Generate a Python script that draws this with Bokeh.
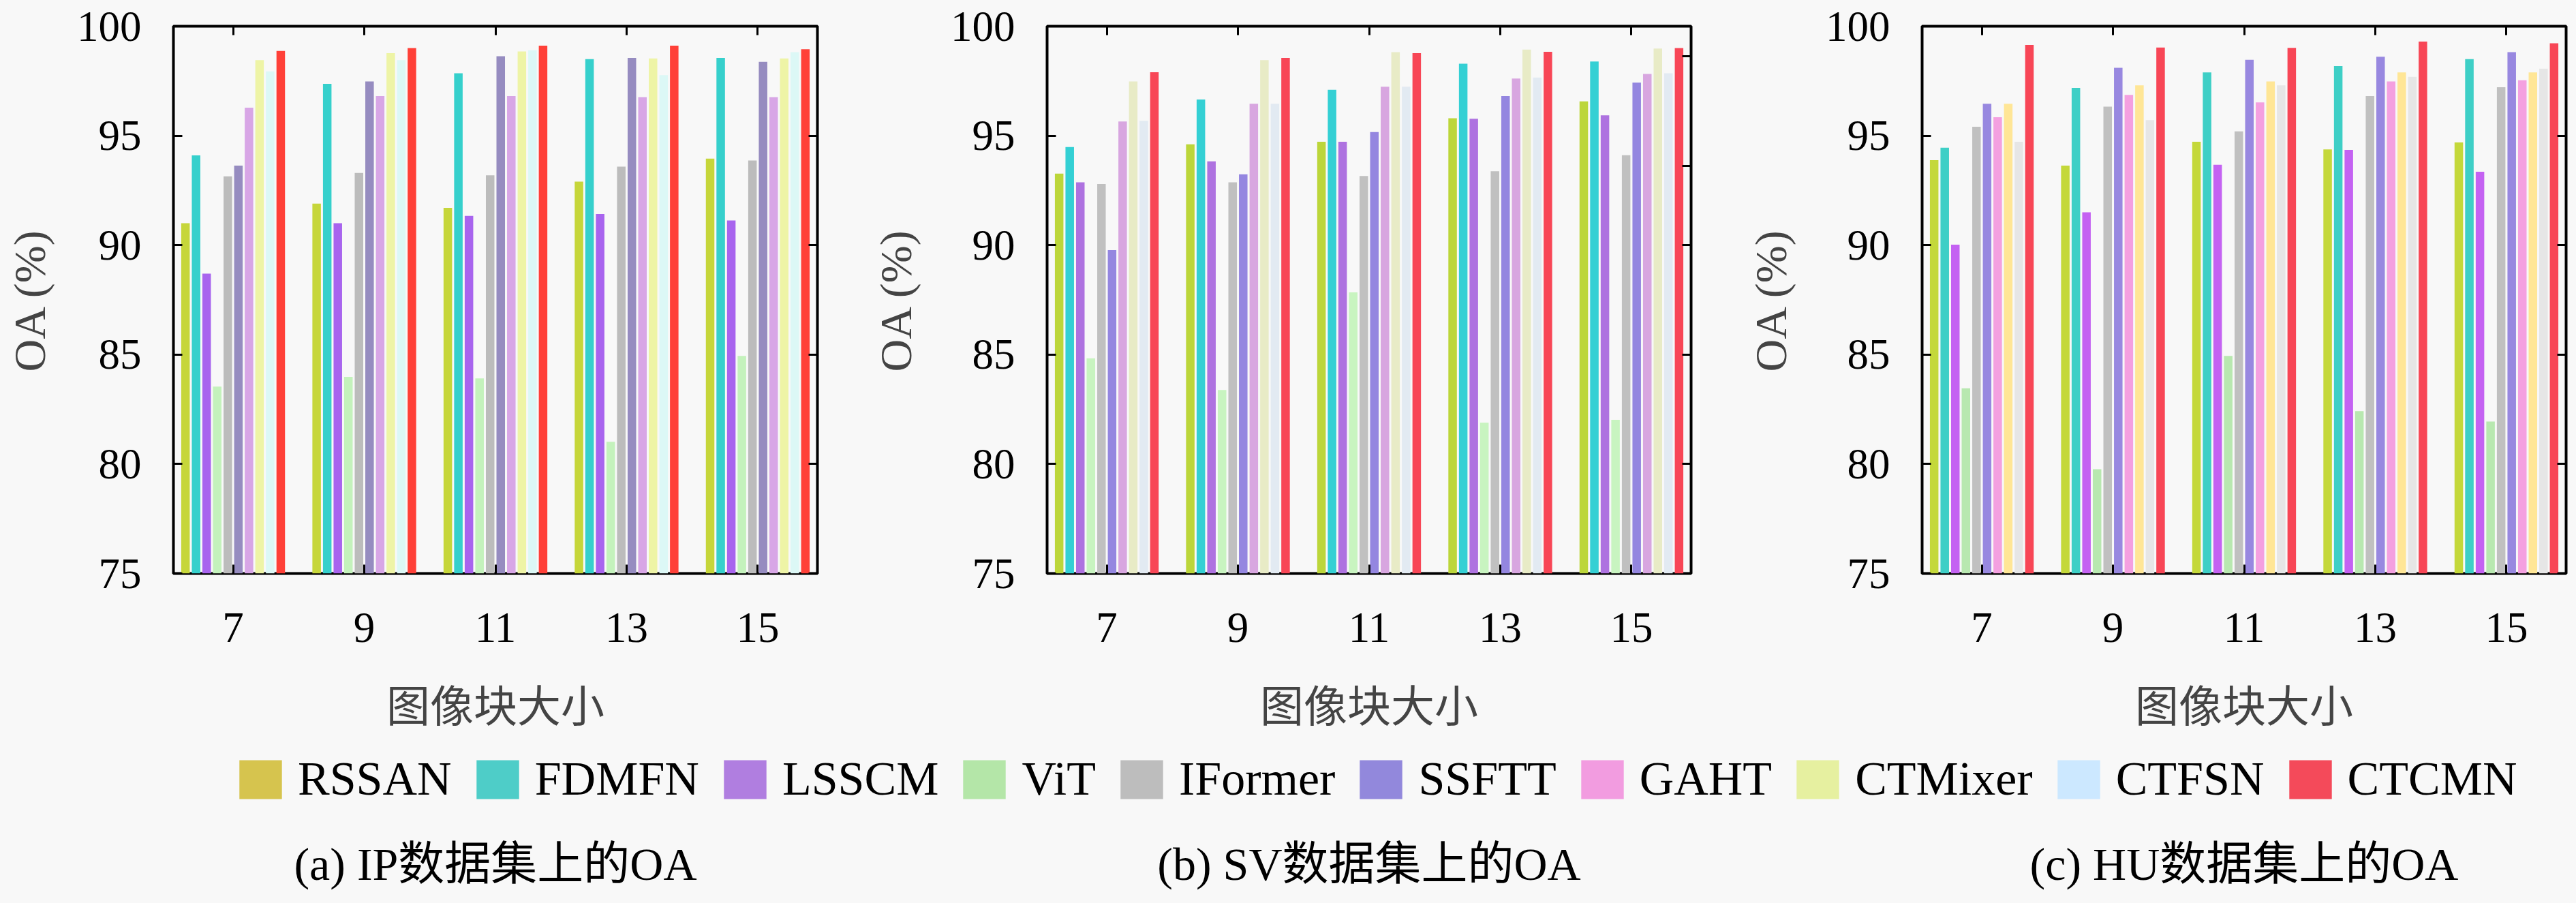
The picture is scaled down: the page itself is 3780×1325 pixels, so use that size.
from bokeh.plotting import figure
from bokeh.models import (Range1d, FixedTicker, LinearAxis, Legend, LegendItem,
                          ColumnDataSource)
from bokeh.layouts import column, row
from bokeh.core.properties import value
from bokeh.embed import file_html
from bokeh.resources import INLINE

# ---------------- data ----------------
patch_sizes = ["7", "9", "11", "13", "15"]
methods = ["RSSAN", "FDMFN", "LSSCM", "ViT", "IFormer", "SSFTT", "GAHT",
           "CTMixer", "CTFSN", "CTCMN"]

ip_oa = {
    "RSSAN":   [91.00, 91.90, 91.70, 92.90, 93.95],
    "FDMFN":   [94.10, 97.37, 97.85, 98.50, 98.55],
    "LSSCM":   [88.70, 91.00, 91.34, 91.42, 91.13],
    "ViT":     [83.54, 83.98, 83.91, 81.02, 84.94],
    "IFormer": [93.14, 93.30, 93.19, 93.59, 93.87],
    "SSFTT":   [93.63, 97.48, 98.63, 98.55, 98.37],
    "GAHT":    [96.28, 96.81, 96.81, 96.76, 96.76],
    "CTMixer": [98.45, 98.77, 98.85, 98.53, 98.53],
    "CTFSN":   [97.94, 98.45, 98.90, 97.77, 98.82],
    "CTCMN":   [98.87, 99.00, 99.11, 99.11, 98.95],
}
sv_oa = {
    "RSSAN":   [93.27, 94.61, 94.72, 95.80, 96.57],
    "FDMFN":   [94.48, 96.65, 97.10, 98.29, 98.39],
    "LSSCM":   [92.87, 93.83, 94.72, 95.77, 95.93],
    "ViT":     [84.83, 83.38, 87.84, 81.89, 82.02],
    "IFormer": [92.79, 92.87, 93.16, 93.38, 94.11],
    "SSFTT":   [89.77, 93.24, 95.17, 96.81, 97.42],
    "GAHT":    [95.65, 96.46, 97.24, 97.61, 97.82],
    "CTMixer": [97.48, 98.45, 98.82, 98.93, 98.98],
    "CTFSN":   [95.68, 96.46, 97.24, 97.66, 97.85],
    "CTCMN":   [97.90, 98.55, 98.77, 98.83, 99.00],
}
hu_oa = {
    "RSSAN":   [93.88, 93.63, 94.72, 94.37, 94.69],
    "FDMFN":   [94.45, 97.18, 97.89, 98.18, 98.50],
    "LSSCM":   [90.02, 91.50, 93.67, 94.35, 93.35],
    "ViT":     [83.46, 79.76, 84.94, 82.42, 81.94],
    "IFormer": [95.41, 96.33, 95.20, 96.81, 97.21],
    "SSFTT":   [96.46, 98.10, 98.47, 98.61, 98.82],
    "GAHT":    [95.84, 96.86, 96.52, 97.48, 97.53],
    "CTMixer": [96.46, 97.30, 97.48, 97.89, 97.89],
    "CTFSN":   [94.72, 95.71, 97.30, 97.69, 98.06],
    "CTCMN":   [99.14, 99.03, 99.01, 99.30, 99.22],
}
y_ticks = [75, 80, 85, 90, 95, 100]
sv_right_ticks = [80, 85, 90, 93.63, 98.63]

captions = ["(a) IP数据集上的OA", "(b) SV数据集上的OA", "(c) HU数据集上的OA"]
x_title = "图像块大小"
y_title = "OA (%)"

legend_colors = ["#d6c44e", "#4ecdc8", "#b07ee0", "#b4e6a8", "#bdbdbd",
                 "#9288dc", "#f29ce0", "#e6f0a0", "#cce8ff", "#f44a5a"]
ip_colors = ["#c6d63a", "#36d0cc", "#a864ee", "#c4f2bc", "#bcbcbc",
             "#968cc0", "#d8a6e6", "#eef4a6", "#dcf8f6", "#ff4038"]
sv_colors = ["#bcd63a", "#34d0d4", "#ae72e0", "#c8f4c0", "#c0c0c0",
             "#9486e0", "#d8a6e0", "#e8ebc6", "#e2eaf2", "#f84656"]
hu_colors = ["#c4d83a", "#3ecfc6", "#c462f2", "#b8e8b0", "#c0c0c0",
             "#9888e0", "#f4a0e0", "#ffe696", "#e6e6e6", "#f84656"]

# ---------------- layout constants ----------------
BG = "#f8f8f8"
SERIF = "Liberation Serif"
CJK = "Noto Sans CJK SC"
FRAME_W = 945
FRAME_H = 803
TOP_H = 1082
panel_widths = [1252, 1284, 1234]
panel_left = [254, 284, 284]
ylabel_standoff = [30, 41, 41]
SLOT = 0.0807
BAR_W = 0.065


def make_panel(data, colors, idx, right_ticks=None):
    w = panel_widths[idx]
    lb = panel_left[idx]
    p = figure(width=w, height=TOP_H,
               x_range=Range1d(-0.455, 4.455), y_range=Range1d(75, 100),
               output_backend="svg", toolbar_location=None,
               min_border_left=lb, min_border_right=w - lb - FRAME_W,
               min_border_top=38, min_border_bottom=TOP_H - 38 - FRAME_H,
               background_fill_color=BG, border_fill_color=BG,
               outline_line_color="black", outline_line_width=4)
    p.grid.visible = False
    groups = list(range(len(patch_sizes)))
    for i, m in enumerate(methods):
        xs = [g + (i - 4.5) * SLOT for g in groups]
        src = ColumnDataSource(dict(x=xs, top=data[m]))
        p.vbar(x="x", top="top", bottom=75, width=BAR_W, source=src,
               fill_color=colors[i], line_color=None)

    xa = p.below[0]
    ya = p.left[0]
    xa.ticker = FixedTicker(ticks=groups)
    xa.major_label_overrides = {g: s for g, s in zip(groups, patch_sizes)}
    ya.ticker = FixedTicker(ticks=y_ticks)

    for ax in (xa, ya):
        ax.major_label_text_font = SERIF
        ax.major_label_text_font_size = "63px"
        ax.major_label_text_color = "black"

    xa.major_label_standoff = 58
    xa.axis_label = x_title
    xa.axis_label_text_font = CJK
    xa.axis_label_text_font_size = "64px"
    xa.axis_label_text_font_style = "normal"
    xa.axis_label_standoff = 40

    ya.major_label_standoff = 47
    ya.axis_label = y_title
    ya.axis_label_text_font = SERIF
    ya.axis_label_text_font_size = "66px"
    ya.axis_label_text_font_style = "normal"
    ya.axis_label_standoff = ylabel_standoff[idx]

    # mirrored tick marks on the top and right edges (no labels)
    top_ax = LinearAxis(ticker=FixedTicker(ticks=groups))
    rt = right_ticks if right_ticks is not None else y_ticks
    right_ax = LinearAxis(ticker=FixedTicker(ticks=rt))
    for ax in (top_ax, right_ax):
        ax.major_label_text_font_size = "1px"
        ax.major_label_text_color = None
        ax.major_label_standoff = 0
    p.add_layout(top_ax, "above")
    p.add_layout(right_ax, "right")

    for ax in (xa, ya, top_ax, right_ax):
        ax.axis_line_color = None
        ax.major_tick_in = 13
        ax.major_tick_out = 0
        ax.major_tick_line_width = 3
        ax.minor_tick_line_color = None
    return p


p1 = make_panel(ip_oa, ip_colors, 0)
p2 = make_panel(sv_oa, sv_colors, 1, right_ticks=sv_right_ticks)
p3 = make_panel(hu_oa, hu_colors, 2)

TOTAL_W = sum(panel_widths)

# ---------------- legend strip ----------------
LEG_H = 115
pl = figure(width=TOTAL_W, height=LEG_H, x_range=Range1d(0, TOTAL_W),
            y_range=Range1d(0, LEG_H), output_backend="svg",
            toolbar_location=None, min_border=0,
            background_fill_color=BG, border_fill_color=BG,
            outline_line_color=None)
pl.axis.visible = False
pl.grid.visible = False
items = []
for m, c in zip(methods, legend_colors):
    # proxy renderer (off-screen) that only supplies the legend swatch
    r = pl.vbar(x=[-1000], top=[-1000], bottom=[-1001], width=1,
                fill_color=c, line_color=None)
    items.append(LegendItem(label=m, renderers=[r]))
legend = Legend(items=items, orientation="horizontal", location=(343, 14),
                glyph_width=78, glyph_height=71, label_standoff=16,
                spacing=28, padding=0, margin=0, border_line_color=None,
                background_fill_alpha=0, label_text_font=SERIF,
                label_text_font_size="70px", label_text_color="black")
pl.add_layout(legend, "center")

# ---------------- captions ----------------
CAP_H = 112
pc = figure(width=TOTAL_W, height=CAP_H, x_range=Range1d(0, TOTAL_W),
            y_range=Range1d(0, CAP_H), output_backend="svg",
            toolbar_location=None, min_border=0,
            background_fill_color=BG, border_fill_color=BG,
            outline_line_color=None)
pc.axis.visible = False
pc.grid.visible = False
frame_lefts = []
acc = 0
for w, lb in zip(panel_widths, panel_left):
    frame_lefts.append(acc + lb)
    acc += w
cap_x = [fl + FRAME_W / 2 for fl in frame_lefts]
pc.text(x=cap_x, y=[42] * 3, text=captions, text_align="center",
        text_baseline="middle",
        text_font=value("'Liberation Serif', 'Noto Sans CJK SC'"),
        text_font_size="68px", text_color="black")

layout = column(row(p1, p2, p3), pl, pc)
html = file_html(layout, INLINE, title="OA vs patch size")
html = html.replace("<head>", "<head><style>body{background:#f8f8f8;}</style>", 1)
open("out.html", "w").write(html)
